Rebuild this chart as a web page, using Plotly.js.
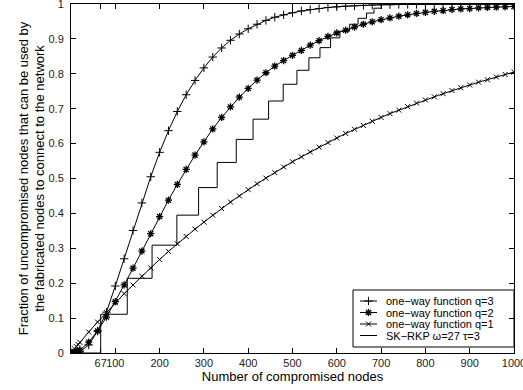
<!DOCTYPE html>
<html><head><meta charset="utf-8">
<script src="https://cdn.plot.ly/plotly-3.0.1.min.js"></script>
<style>html,body{margin:0;padding:0;background:#fff}</style>
</head><body><div id="chart" style="width:523px;height:390px"></div>
<script>
const xNodes = [0,4,8,12,16,20,40,60,80,100,120,140,160,180,200,220,240,260,280,300,320,340,360,380,400,420,440,460,480,500,520,540,560,580,600,620,640,660,680,700,720,740,760,780,800,820,840,860,880,900,920,940,960,980,1000];
const q3Values = [0,0.00004,0.0003,0.0009,0.002,0.0036,0.023,0.063,0.117,0.192,0.270,0.351,0.430,0.505,0.575,0.637,0.692,0.740,0.781,0.817,0.848,0.874,0.896,0.914,0.929,0.942,0.953,0.962,0.969,0.975,0.980,0.984,0.987,0.990,0.992,0.994,0.995,0.996,0.997,0.998,0.998,0.999,0.999,0.999,0.999,1,1,1,1,1,1,1,1,1,1];
const q2Values = [0,0.0004,0.0014,0.0031,0.0054,0.008,0.031,0.063,0.103,0.147,0.195,0.243,0.292,0.342,0.391,0.438,0.483,0.526,0.567,0.605,0.642,0.675,0.705,0.733,0.758,0.782,0.803,0.822,0.838,0.853,0.867,0.882,0.895,0.907,0.917,0.925,0.934,0.942,0.949,0.955,0.960,0.965,0.969,0.973,0.976,0.979,0.981,0.984,0.986,0.987,0.989,0.990,0.991,0.992,0.993];
const q1Values = [0,0.0062,0.0122,0.0183,0.0243,0.0303,0.060,0.0886,0.116,0.1435,0.170,0.195,0.220,0.244,0.268,0.291,0.313,0.334,0.355,0.375,0.395,0.414,0.4325,0.450,0.468,0.485,0.501,0.517,0.533,0.548,0.562,0.576,0.590,0.603,0.616,0.629,0.641,0.652,0.664,0.675,0.686,0.696,0.706,0.716,0.725,0.734,0.743,0.752,0.760,0.768,0.776,0.783,0.791,0.798,0.805];
const skX = [0,67,127,183,239,288,330,373,411,446,479,510,537,562,586,607,629,648,667,684,701,1000];
const skY = [0,0.111,0.214,0.309,0.395,0.474,0.546,0.612,0.670,0.722,0.770,0.810,0.846,0.875,0.903,0.922,0.942,0.959,0.974,0.988,1.0,1.0];
const xTickVals = [67,100,200,300,400,500,600,700,800,900,1000];
const xTickText = ['67','100','200','300','400','500','600','700','800','900','1000'];
const yTickVals = [0,0.1,0.2,0.3,0.4,0.5,0.6,0.7,0.8,0.9,1];
const yTickText = ['0','0.1','0.2','0.3','0.4','0.5','0.6','0.7','0.8','0.9','1'];
const names = ['one\u2212way function q=3','one\u2212way function q=2','one\u2212way function q=1','SK\u2212RKP \u03c9=27 \u03c4=3'];

const markerStyles = [
  {symbol:'cross-thin-open', size:6, color:'#000', line:{color:'#000', width:1}},
  {symbol:'asterisk-open', size:6, color:'#000', line:{color:'#111', width:1.3}},
  {symbol:'x-thin-open', size:5, color:'#000', line:{color:'#000', width:1}},
  null
];
const seriesY = [q3Values, q2Values, q1Values];
const ln = {color:'#000', width:1};
const traces = [];
for (let i = 0; i < 3; i++) {
  traces.push({x:xNodes, y:seriesY[i], name:names[i], mode:'lines+markers', line:ln, marker:markerStyles[i], showlegend:false});
}
traces.push({x:skX, y:skY, name:names[3], mode:'lines', line:{color:'#000', width:1, shape:'hv'}, showlegend:false});

// custom compact legend (pixel coordinates on an overlay axis)
const legRowsPx = [301, 312.5, 324, 335.5];
const legLineX = [360, 377];
const legTextX = 384;
const annotations = [];
for (let i = 0; i < 4; i++) {
  traces.push({x:legLineX, y:[legRowsPx[i], legRowsPx[i]], xaxis:'x2', yaxis:'y2', mode:'lines', line:ln, showlegend:false, hoverinfo:'skip'});
  if (markerStyles[i]) {
    traces.push({x:[(legLineX[0]+legLineX[1])/2], y:[legRowsPx[i]], xaxis:'x2', yaxis:'y2', mode:'markers', marker:markerStyles[i], showlegend:false, hoverinfo:'skip'});
  }
  annotations.push({xref:'x2', yref:'y2', x:legTextX, y:legRowsPx[i], text:names[i], showarrow:false, xanchor:'left', yanchor:'middle',
    font:{family:'Liberation Sans, Arial', size:11, color:'#000'}});
}

const axisCommon = {showline:true, linecolor:'#000', linewidth:1, mirror:'ticks', ticks:'inside',
  ticklen:5, tickcolor:'#000', showgrid:false, zeroline:false, ticklabeloverflow:'allow',
  tickfont:{family:'Liberation Sans, Arial', size:11, color:'#222'}};
const layout = {
  width:523, height:390,
  margin:{l:71, r:9, t:4, b:37},
  paper_bgcolor:'#fff', plot_bgcolor:'#fff',
  font:{family:'Liberation Sans, Arial', color:'#000'},
  showlegend:false,
  xaxis:Object.assign({}, axisCommon, {range:[0,1000], tickmode:'array', tickvals:xTickVals, ticktext:xTickText, tickangle:0,
    title:{text:'Number of compromised nodes', font:{size:13, color:'#000'}, standoff:1}}),
  yaxis:Object.assign({}, axisCommon, {range:[0,1], tickmode:'array', tickvals:yTickVals, ticktext:yTickText, ticklabelstandoff:4,
    title:{text:'Fraction of uncompromised nodes that can be used by<br>the fabricated nodes to connect to the network', font:{size:13, color:'#000'}, standoff:0}}),
  xaxis2:{overlaying:'x', range:[71,514], visible:false, fixedrange:true},
  yaxis2:{overlaying:'y', range:[353,4], visible:false, fixedrange:true},
  shapes:[{type:'rect', xref:'paper', yref:'paper', x0:(353-71)/443, x1:1, y0:(353-347)/349, y1:(353-290)/349,
    line:{color:'#000', width:1}, layer:'below'}],
  annotations:annotations
};
Plotly.newPlot('chart', traces, layout, {displayModeBar:false, staticPlot:true});
</script></body></html>
